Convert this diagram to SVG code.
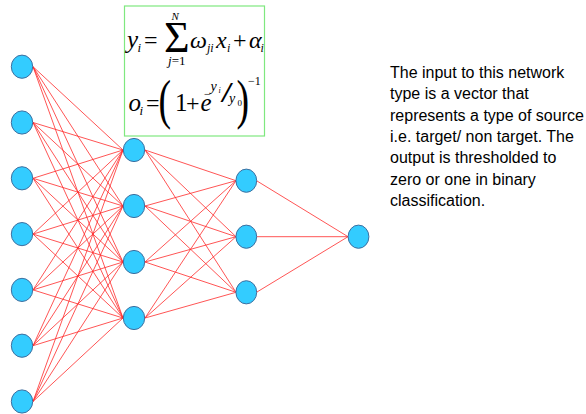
<svg xmlns="http://www.w3.org/2000/svg" width="586" height="414" viewBox="0 0 586 414">
<style>
.n{fill:#33ccff;stroke:#3f6f9f;stroke-width:1}
.c line{stroke:#ff2a2a;stroke-width:0.8}
.m{font-family:"Liberation Serif","Times New Roman",serif;fill:#000}
.it{font-style:italic}
.p{font-family:"Liberation Sans",Arial,sans-serif;font-size:16px;fill:#000}
</style>
<rect width="586" height="414" fill="#fff"/>
<g class="c" id="connectors">
<line x1="33" y1="66.7" x2="123" y2="150"/><line x1="33" y1="66.7" x2="123" y2="206"/><line x1="33" y1="66.7" x2="123" y2="262"/><line x1="33" y1="66.7" x2="123" y2="318"/>
<line x1="33" y1="122.5" x2="123" y2="150"/><line x1="33" y1="122.5" x2="123" y2="206"/><line x1="33" y1="122.5" x2="123" y2="262"/><line x1="33" y1="122.5" x2="123" y2="318"/>
<line x1="33" y1="178.3" x2="123" y2="150"/><line x1="33" y1="178.3" x2="123" y2="206"/><line x1="33" y1="178.3" x2="123" y2="262"/><line x1="33" y1="178.3" x2="123" y2="318"/>
<line x1="33" y1="234.1" x2="123" y2="150"/><line x1="33" y1="234.1" x2="123" y2="206"/><line x1="33" y1="234.1" x2="123" y2="262"/><line x1="33" y1="234.1" x2="123" y2="318"/>
<line x1="33" y1="289.9" x2="123" y2="150"/><line x1="33" y1="289.9" x2="123" y2="206"/><line x1="33" y1="289.9" x2="123" y2="262"/><line x1="33" y1="289.9" x2="123" y2="318"/>
<line x1="33" y1="345.7" x2="123" y2="150"/><line x1="33" y1="345.7" x2="123" y2="206"/><line x1="33" y1="345.7" x2="123" y2="262"/><line x1="33" y1="345.7" x2="123" y2="318"/>
<line x1="33" y1="401.5" x2="123" y2="150"/><line x1="33" y1="401.5" x2="123" y2="206"/><line x1="33" y1="401.5" x2="123" y2="262"/><line x1="33" y1="401.5" x2="123" y2="318"/>
<line x1="145" y1="150" x2="236" y2="180.7"/><line x1="145" y1="150" x2="236" y2="236.7"/><line x1="145" y1="150" x2="236" y2="292.3"/>
<line x1="145" y1="206" x2="236" y2="180.7"/><line x1="145" y1="206" x2="236" y2="236.7"/><line x1="145" y1="206" x2="236" y2="292.3"/>
<line x1="145" y1="262" x2="236" y2="180.7"/><line x1="145" y1="262" x2="236" y2="236.7"/><line x1="145" y1="262" x2="236" y2="292.3"/>
<line x1="145" y1="318" x2="236" y2="180.7"/><line x1="145" y1="318" x2="236" y2="236.7"/><line x1="145" y1="318" x2="236" y2="292.3"/>
<line x1="256.5" y1="180.7" x2="348" y2="236.7"/><line x1="256.5" y1="236.7" x2="348" y2="236.7"/><line x1="256.5" y1="292.3" x2="348" y2="236.7"/>
</g>
<g id="in1"><ellipse class="n" cx="22" cy="66.7" rx="10.7" ry="11.6"/></g>
<g id="in2"><ellipse class="n" cx="22" cy="122.5" rx="10.7" ry="11.6"/></g>
<g id="in3"><ellipse class="n" cx="22" cy="178.3" rx="10.7" ry="11.6"/></g>
<g id="in4"><ellipse class="n" cx="22" cy="234.1" rx="10.7" ry="11.6"/></g>
<g id="in5"><ellipse class="n" cx="22" cy="289.9" rx="10.7" ry="11.6"/></g>
<g id="in6"><ellipse class="n" cx="22" cy="345.7" rx="10.7" ry="11.6"/></g>
<g id="in7"><ellipse class="n" cx="22" cy="401.5" rx="10.7" ry="11.6"/></g>
<g id="h1a"><ellipse class="n" cx="134" cy="150" rx="10.7" ry="11.6"/></g>
<g id="h1b"><ellipse class="n" cx="134" cy="206" rx="10.7" ry="11.6"/></g>
<g id="h1c"><ellipse class="n" cx="134" cy="262" rx="10.7" ry="11.6"/></g>
<g id="h1d"><ellipse class="n" cx="134" cy="318" rx="10.7" ry="11.6"/></g>
<g id="h2a"><ellipse class="n" cx="246.3" cy="180.7" rx="10.4" ry="11.6"/></g>
<g id="h2b"><ellipse class="n" cx="246.3" cy="236.7" rx="10.4" ry="11.6"/></g>
<g id="h2c"><ellipse class="n" cx="246.3" cy="292.3" rx="10.4" ry="11.6"/></g>
<g id="out"><ellipse class="n" cx="358.5" cy="236.7" rx="10.4" ry="11.6"/></g>
<g id="formula">
<rect x="124.5" y="6" width="140" height="130" fill="none" stroke="#7fe87f" stroke-width="1.2"/>
<text class="m it" x="127" y="48" font-size="25">y</text>
<text class="m it" x="137.5" y="52" font-size="13">i</text>
<text class="m" x="144" y="48" font-size="24">=</text>
<text class="m" x="164" y="51.5" font-size="44">Σ</text>
<text class="m it" x="171.5" y="20" font-size="11">N</text>
<text class="m" x="168" y="65" font-size="13"><tspan font-style="italic">j</tspan>=1</text>
<text class="m it" x="190" y="48" font-size="24">ω</text>
<text class="m it" x="207" y="52" font-size="12">ji</text>
<text class="m it" x="216" y="48" font-size="24">x</text>
<text class="m it" x="227" y="52" font-size="12">i</text>
<text class="m" x="233" y="48" font-size="24">+</text>
<text class="m it" x="249" y="48" font-size="24">α</text>
<text class="m it" x="260.5" y="52" font-size="12">i</text>
<text class="m it" x="128.5" y="111" font-size="25">o</text>
<text class="m it" x="139.5" y="115" font-size="13">i</text>
<text class="m" x="146" y="111" font-size="24">=</text>
<text class="m" transform="translate(158.5,118) scale(0.7,1)" font-size="54">(</text>
<text class="m" x="175" y="111" font-size="25">1</text>
<text class="m" x="186" y="111" font-size="24">+</text>
<text class="m it" x="200.5" y="111" font-size="25">e</text>
<text class="m" x="204" y="98" font-size="12">−</text>
<text class="m it" x="210.5" y="91" font-size="14">y</text>
<text class="m it" x="218.5" y="93" font-size="8">i</text>
<text class="m" transform="translate(220.5,102) scale(1.5,1)" font-size="30">/</text>
<text class="m it" x="229" y="103" font-size="14">y</text>
<text class="m" x="237.5" y="106" font-size="9">0</text>
<text class="m" transform="translate(236.5,118) scale(0.7,1)" font-size="54">)</text>
<text class="m" x="248" y="85" font-size="12">−1</text>
</g>
<g id="caption">
<text class="p" x="390" y="78">The input to this network</text>
<text class="p" x="390" y="99.3">type is a vector that</text>
<text class="p" x="390" y="120.6">represents a type of source</text>
<text class="p" x="390" y="142">i.e. target/ non target. The</text>
<text class="p" x="390" y="163.3">output is thresholded to</text>
<text class="p" x="390" y="184.6">zero or one in binary</text>
<text class="p" x="390" y="206">classification.</text>
</g>
</svg>
